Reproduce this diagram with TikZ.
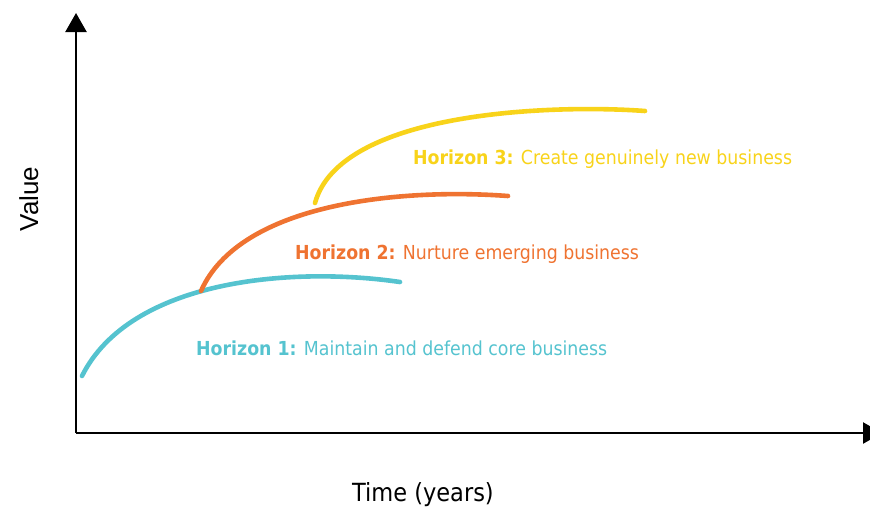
\documentclass[tikz,border=0pt]{standalone}
\usepackage{fontspec}
\setmainfont{DejaVu Sans Condensed}
\newfontfamily\valuefont{Liberation Sans}
\usepackage{xcolor}
\usetikzlibrary{arrows.meta,positioning}
\definecolor{hzteal}{HTML}{55C3CF}
\definecolor{hzorange}{HTML}{EF7331}
\definecolor{hzyellow}{HTML}{F8D31A}

\begin{document}
\begin{tikzpicture}[x=1pt,y=-1pt,
axis/.style={
% The line:
line width=2.4pt,
% The tip
-{Triangle[length=19pt,width=21pt]}},
horizon/.style={line width=4.6pt,line cap=round},
label/.style={anchor=base west,inner sep=0pt,font=\fontsize{19.3}{22}\selectfont}]

\useasboundingbox (0,0) rectangle (870,506);

\coordinate (O) at (76,433);
\coordinate (Ytop) at (76,13);
\coordinate (Xend) at (882,433);
\draw[axis] (O) -- (Ytop);
\draw[axis] (O) -- (Xend);

\node (Value) [rotate=90,anchor=base,inner sep=0pt,font=\valuefont\fontsize{26}{28}\selectfont] at (38,199) {Value};
\node (Time) [anchor=base,inner sep=0pt,font=\fontsize{25}{28}\selectfont] at (423,501) {Time (years)};

% the three curves
\draw[horizon,hzteal] (82,376) .. controls (130,280) and (290,266) .. (400,282);
\draw[horizon,hzorange] (201,291) .. controls (240,203) and (400,188) .. (508,196);
\draw[horizon,hzyellow] (315,203) .. controls (340,112) and (550,104) .. (645,111);

\node (HOne) [label,text=hzteal] at (196,355) {\textbf{Horizon 1:} Maintain and defend core business};
\node (HTwo) [label,text=hzorange] at (295,259) {\textbf{Horizon 2:} Nurture emerging business};
\node (HThree) [label,text=hzyellow] at (413,164) {\textbf{Horizon 3:} Create genuinely new business};

\end{tikzpicture}
\end{document}
